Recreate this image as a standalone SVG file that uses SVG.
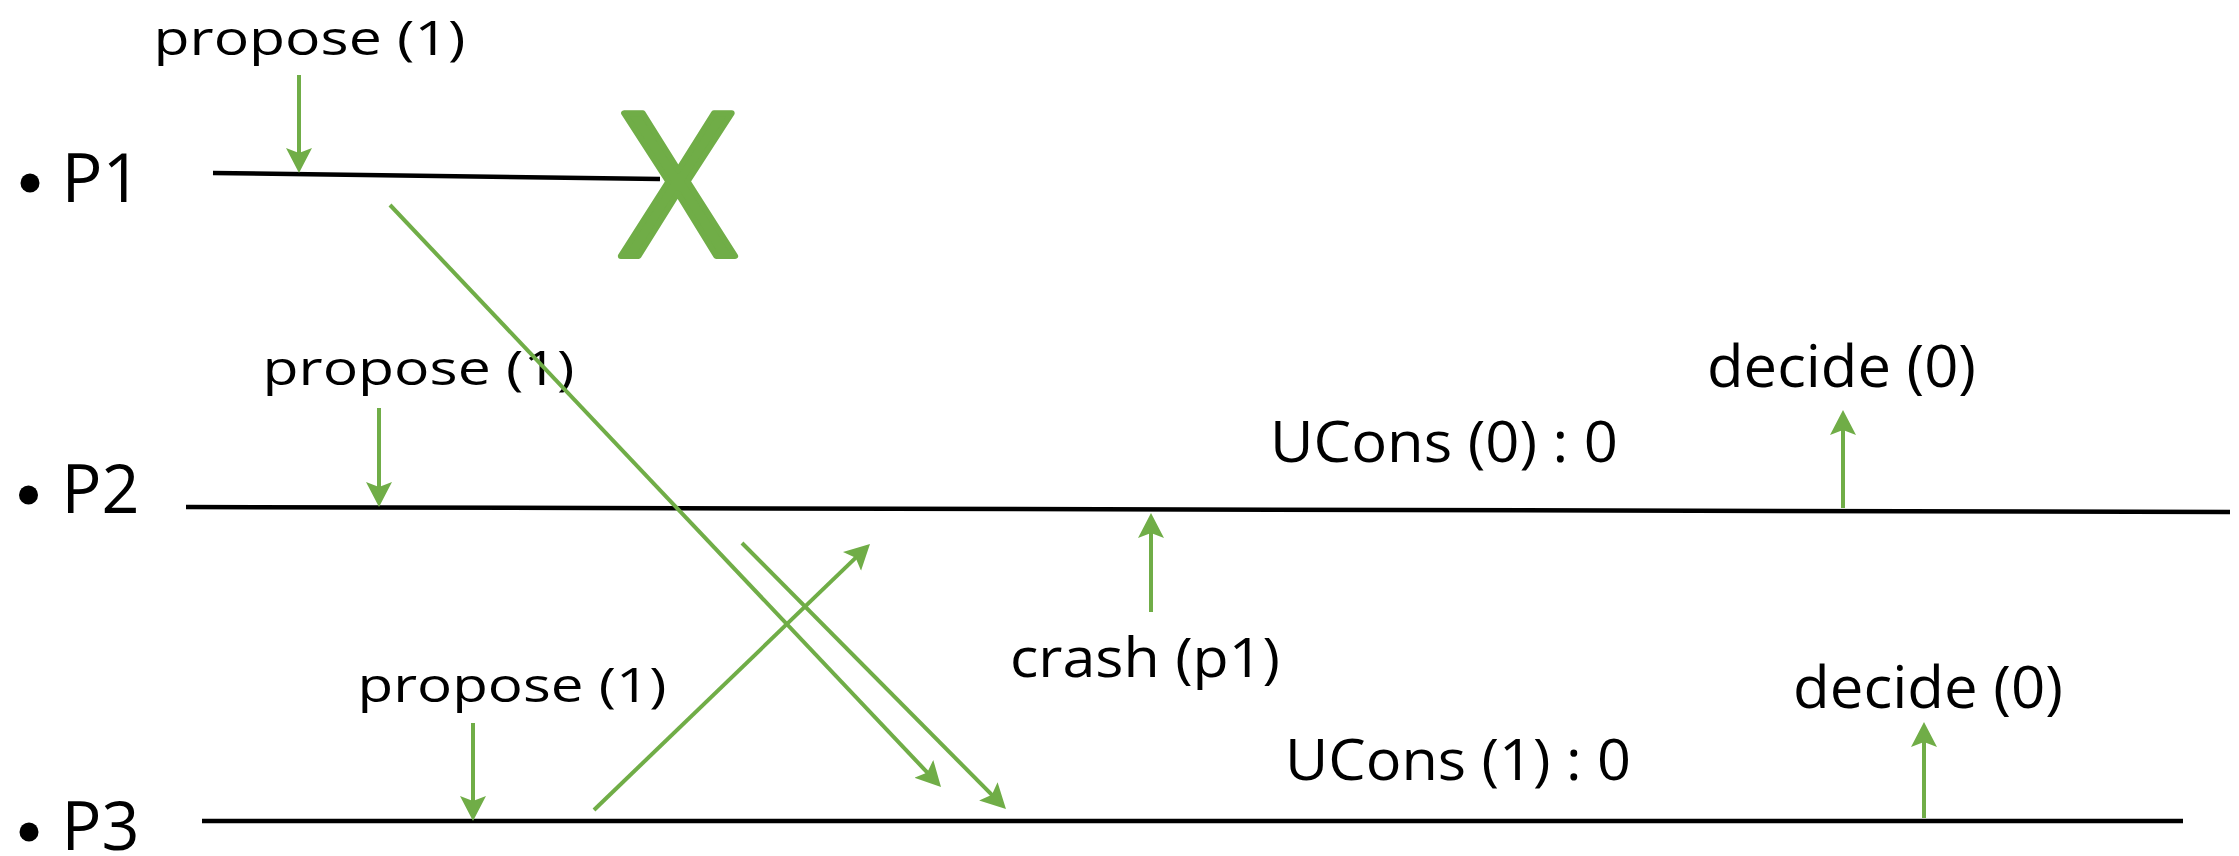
<svg xmlns="http://www.w3.org/2000/svg" width="2239" height="856" viewBox="0 0 2239 856">
  <style>
    .lbl { font-family: "Open Sans", "Liberation Sans", sans-serif; fill: #000000; }
    .plbl { font-family: "Open Sans", "Liberation Sans", sans-serif; font-size: 67px; fill: #000000; }
    .bul { fill: #000000; }
    .tl { stroke: #000000; stroke-width: 4.5; fill: none; }
    .msg { stroke: #70AD47; stroke-width: 4; fill: none; marker-end: url(#ah); }
  </style>
  <defs>
    <marker id="ah" markerUnits="userSpaceOnUse" markerWidth="32" markerHeight="32" viewBox="0 -16 32 32" refX="10" refY="0" orient="auto">
      <path d="M0,-13 L25,0 L0,13 L5,0 Z" fill="#70AD47"/>
    </marker>
  </defs>
  <rect width="2239" height="856" fill="#ffffff"/>

  <g id="p1">
    <circle class="bul" cx="30" cy="183" r="9.5"/>
    <text class="plbl" x="61.5" y="202" textLength="80" lengthAdjust="spacingAndGlyphs">P1</text>
    <line class="tl" x1="213" y1="173" x2="660" y2="179"/>
    <text x="678" y="255.5" text-anchor="middle" font-family="Open Sans, Liberation Sans, sans-serif" font-size="200" fill="#70AD47" stroke="#70AD47" stroke-width="6" stroke-linejoin="round">X</text>
  </g>

  <g id="p2">
    <circle class="bul" cx="28.5" cy="495" r="9.5"/>
    <text class="plbl" x="61.5" y="513" textLength="78" lengthAdjust="spacingAndGlyphs">P2</text>
    <line class="tl" x1="186" y1="507" x2="2230" y2="512"/>
  </g>

  <g id="p3">
    <circle class="bul" cx="29" cy="832" r="9.5"/>
    <text class="plbl" x="61.5" y="850" textLength="78" lengthAdjust="spacingAndGlyphs">P3</text>
    <line class="tl" x1="202" y1="821" x2="2183" y2="821"/>
  </g>

  <g id="labels">
    <text class="lbl" font-size="47" x="153.5" y="55" textLength="312" lengthAdjust="spacingAndGlyphs">propose (1)</text>
    <text class="lbl" font-size="47" x="262.5" y="385" textLength="312" lengthAdjust="spacingAndGlyphs">propose (1)</text>
    <text class="lbl" font-size="47" x="357.5" y="702" textLength="309" lengthAdjust="spacingAndGlyphs">propose (1)</text>
    <text class="lbl" font-size="57" x="1270" y="462" textLength="348" lengthAdjust="spacingAndGlyphs">UCons (0) : 0</text>
    <text class="lbl" font-size="57" x="1285" y="780" textLength="346" lengthAdjust="spacingAndGlyphs">UCons (1) : 0</text>
    <text class="lbl" font-size="54" x="1010" y="677" textLength="270" lengthAdjust="spacingAndGlyphs">crash (p1)</text>
    <text class="lbl" font-size="58" x="1707" y="387" textLength="269" lengthAdjust="spacingAndGlyphs">decide (0)</text>
    <text class="lbl" font-size="58" x="1793" y="708" textLength="270" lengthAdjust="spacingAndGlyphs">decide (0)</text>
  </g>

  <g id="connectors">
    <line class="msg" x1="299" y1="75" x2="299" y2="158"/>
    <line class="msg" x1="379" y1="408" x2="379" y2="492"/>
    <line class="msg" x1="473" y1="723" x2="473" y2="806"/>
    <line class="msg" x1="390" y1="205" x2="930.7" y2="776.1"/>
    <line class="msg" x1="742" y1="543" x2="995.4" y2="798.4"/>
    <line class="msg" x1="594" y1="810" x2="859.2" y2="554.4"/>
    <line class="msg" x1="1151" y1="612" x2="1151" y2="528"/>
    <line class="msg" x1="1843" y1="508" x2="1843" y2="425"/>
    <line class="msg" x1="1924" y1="818" x2="1924" y2="737"/>
  </g>
</svg>
